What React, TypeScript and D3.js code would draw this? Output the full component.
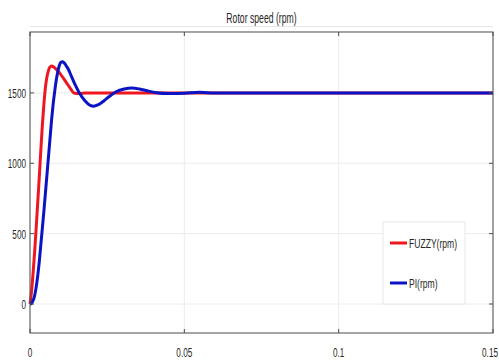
import { useEffect } from 'react';
import * as d3 from 'd3';

// Rotor speed step response, FUZZY vs PI controller
const fuzzyTime = [0, 0.0005, 0.001, 0.0015, 0.002, 0.0025, 0.003, 0.0035, 0.004, 0.0045, 0.005, 0.0055, 0.006, 0.0065, 0.007, 0.0078, 0.0087, 0.0097, 0.0108, 0.0119, 0.013, 0.0142, 0.016, 0.018, 0.03, 0.05, 0.08, 0.11, 0.15];
const fuzzySpeed = [0, 90, 220, 370, 540, 720, 900, 1090, 1270, 1420, 1540, 1615, 1660, 1685, 1692, 1682, 1663, 1639, 1605, 1570, 1535, 1500, 1496, 1500, 1500, 1500, 1500, 1500, 1500];

const piTime = [0, 0.0005, 0.001, 0.0015, 0.002, 0.0025, 0.003, 0.0035, 0.004, 0.0045, 0.005, 0.0055, 0.006, 0.0065, 0.007, 0.0075, 0.008, 0.0085, 0.009, 0.0095, 0.01, 0.0105, 0.011, 0.0118, 0.0125, 0.013, 0.0145, 0.016, 0.0178, 0.0195, 0.0207, 0.022, 0.024, 0.026, 0.028, 0.0305, 0.033, 0.0355, 0.038, 0.041, 0.045, 0.05, 0.055, 0.06, 0.15];
const piSpeed = [0, 5, 25, 60, 120, 200, 300, 420, 540, 660, 790, 920, 1050, 1180, 1310, 1420, 1510, 1590, 1650, 1695, 1718, 1722, 1715, 1690, 1665, 1640, 1565, 1500, 1445, 1412, 1406, 1415, 1445, 1480, 1510, 1528, 1535, 1528, 1515, 1502, 1496, 1498, 1504, 1500, 1500];

const xTicks = [0, 0.05, 0.1, 0.15];
const xTickLabels = ['0', '0.05', '0.1', '0.15'];
const yTicks = [0, 500, 1000, 1500];

const legendNames = ['FUZZY(rpm)', 'PI(rpm)'];
const title = 'Rotor speed (rpm)';

const RED = '#ee1620';
const BLUE = '#0a14c4';

const W = 499;
const H = 363;
const margin = { top: 32, right: 6, bottom: 30, left: 30 };

// narrow text, the original uses a squeezed sans face
function NarrowText({ x, y, anchor = 'start', size = 13, sx = 0.63, children }: any) {
  return (
    <text
      transform={`translate(${x},${y}) scale(${sx},1)`}
      textAnchor={anchor}
      fontFamily="Liberation Sans, Arial, sans-serif"
      fontSize={size}
      fill="#262626"
    >
      {children}
    </text>
  );
}

export default function App() {
  useEffect(() => {
    document.body.style.margin = '0';
  }, []);

  const x = d3.scaleLinear().domain([0, 0.15]).range([margin.left, W - margin.right]);
  const y = d3.scaleLinear().domain([-206, 1933]).range([H - margin.bottom, margin.top]);

  const line = d3
    .line<[number, number]>()
    .x((d) => x(d[0]))
    .y((d) => y(d[1]))
    .curve(d3.curveMonotoneX);

  const fuzzy = fuzzyTime.map((t, i) => [t, fuzzySpeed[i]] as [number, number]);
  const pi = piTime.map((t, i) => [t, piSpeed[i]] as [number, number]);

  const [x0, x1] = x.range();
  const [y0, y1] = y.range();

  const legendX = 383;
  const legendY = 222;

  return (
    <svg width={W} height={H} style={{ position: 'absolute', left: 0, top: 0, background: '#fff' }}>
      <NarrowText x={(x0 + x1) / 2} y={23} anchor="middle" size={14} sx={0.62}>
        {title}
      </NarrowText>

      {/* faint figure line above the axes */}
      <line x1={x0} x2={x1} y1={26.5} y2={26.5} stroke="#e6e6e6" />

      {/* grid */}
      {xTicks.map((t) => (
        <line key={'gx' + t} x1={x(t)} x2={x(t)} y1={y1} y2={y0} stroke="#ececec" />
      ))}
      {yTicks.map((t) => (
        <line key={'gy' + t} x1={x0} x2={x1} y1={y(t)} y2={y(t)} stroke="#ececec" />
      ))}

      {/* series */}
      <path d={line(fuzzy) ?? ''} fill="none" stroke={RED} strokeWidth={3} strokeLinejoin="round" />
      <path d={line(pi) ?? ''} fill="none" stroke={BLUE} strokeWidth={3} strokeLinejoin="round" />

      {/* frame */}
      <rect x={x0} y={y1} width={x1 - x0} height={y0 - y1} fill="none" stroke="#4d4d4d" strokeWidth={1} />

      {/* ticks */}
      {xTicks.map((t) => (
        <g key={'tx' + t}>
          <line x1={x(t)} x2={x(t)} y1={y0} y2={y0 - 4} stroke="#4d4d4d" />
          <line x1={x(t)} x2={x(t)} y1={y1} y2={y1 + 4} stroke="#4d4d4d" />
        </g>
      ))}
      {yTicks.map((t) => (
        <g key={'ty' + t}>
          <line x1={x0} x2={x0 + 4} y1={y(t)} y2={y(t)} stroke="#4d4d4d" />
          <line x1={x1} x2={x1 - 4} y1={y(t)} y2={y(t)} stroke="#4d4d4d" />
        </g>
      ))}

      {/* tick labels; the last one is pulled in so it stays on the page */}
      {xTicks.map((t, i) => {
        const last = i === xTicks.length - 1;
        return (
          <NarrowText key={'lx' + t} x={last ? W - 1 : x(t)} y={357} anchor={last ? 'end' : 'middle'}>
            {xTickLabels[i]}
          </NarrowText>
        );
      })}
      {yTicks.map((t) => (
        <NarrowText key={'ly' + t} x={26} y={y(t) + 5} anchor="end">
          {t}
        </NarrowText>
      ))}

      {/* legend */}
      <rect x={legendX} y={legendY} width={82} height={82} fill="#fff" stroke="#e8e8e8" />
      {legendNames.map((name, i) => (
        <g key={name}>
          <line
            x1={legendX + 7}
            x2={legendX + 24}
            y1={legendY + 21 + i * 40}
            y2={legendY + 21 + i * 40}
            stroke={i === 0 ? RED : BLUE}
            strokeWidth={3}
          />
          <NarrowText x={legendX + 26} y={legendY + 26 + i * 40} size={13} sx={0.66}>
            {name}
          </NarrowText>
        </g>
      ))}
    </svg>
  );
}
